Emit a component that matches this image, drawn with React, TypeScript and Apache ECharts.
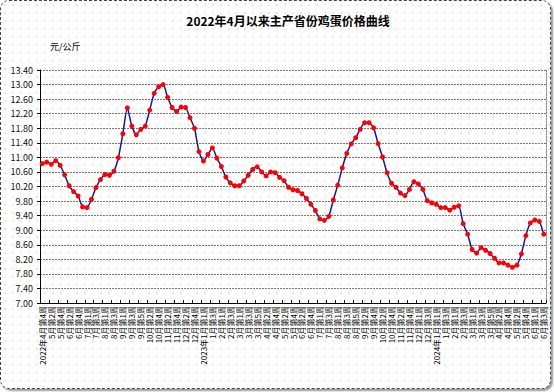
import React, { useEffect, useRef } from "react";
import * as echarts from "echarts";

const TITLE = "2022年4月以来主产省份鸡蛋价格曲线";
const UNIT = "元/公斤";

const categories: string[] = [
  "2022年4月第4周",
  "5月第1周", "5月第2周", "5月第3周", "5月第4周",
  "6月第1周", "6月第2周", "6月第3周", "6月第4周", "6月第5周",
  "7月第1周", "7月第2周", "7月第3周", "7月第4周",
  "8月第1周", "8月第2周", "8月第3周", "8月第4周",
  "9月第1周", "9月第2周", "9月第3周", "9月第4周", "9月第5周",
  "10月第1周", "10月第2周", "10月第3周", "10月第4周",
  "11月第1周", "11月第2周", "11月第3周", "11月第4周",
  "12月第1周", "12月第2周", "12月第3周", "12月第4周", "12月第5周",
  "2023年1月第1周", "1月第2周", "1月第3周", "1月第4周",
  "2月第1周", "2月第2周", "2月第3周", "2月第4周",
  "3月第1周", "3月第2周", "3月第3周", "3月第4周", "3月第5周",
  "4月第1周", "4月第2周", "4月第3周", "4月第4周",
  "5月第1周", "5月第2周", "5月第3周", "5月第4周",
  "6月第1周", "6月第2周", "6月第3周", "6月第4周", "6月第5周",
  "7月第1周", "7月第2周", "7月第3周", "7月第4周",
  "8月第1周", "8月第2周", "8月第3周", "8月第4周", "8月第5周",
  "9月第1周", "9月第2周", "9月第3周", "9月第4周",
  "10月第1周", "10月第2周", "10月第3周", "10月第4周",
  "11月第1周", "11月第2周", "11月第3周", "11月第4周", "11月第5周",
  "12月第1周", "12月第2周", "12月第3周", "12月第4周",
  "2024年1月第1周", "1月第2周", "1月第3周", "1月第4周",
  "2月第1周", "2月第2周", "2月第3周", "2月第4周",
  "3月第1周", "3月第2周", "3月第3周", "3月第4周", "3月第5周",
  "4月第1周", "4月第2周", "4月第3周", "4月第4周",
  "5月第1周", "5月第2周", "5月第3周", "5月第4周", "5月第5周",
  "6月第1周", "6月第2周", "6月第3周",
];

const prices2022: number[] = [
  10.83, 10.87, 10.81, 10.91, 10.78, 10.52, 10.22, 10.06, 9.94, 9.64,
  9.62, 9.85, 10.17, 10.39, 10.53, 10.51, 10.62, 10.99, 11.65, 12.36,
  11.86, 11.62, 11.77, 11.86, 12.3, 12.76, 12.94, 13.0, 12.65, 12.37,
  12.26, 12.38, 12.37, 12.09, 11.8, 11.16,
];

const prices2023: number[] = [
  10.9, 11.08, 11.26, 10.98, 10.75, 10.46, 10.3, 10.22, 10.22, 10.35,
  10.51, 10.67, 10.74, 10.6, 10.49, 10.6, 10.58, 10.45, 10.36, 10.18,
  10.11, 10.09, 10.0, 9.87, 9.71, 9.54, 9.31, 9.27, 9.38, 9.83,
  10.24, 10.71, 11.11, 11.37, 11.54, 11.77, 11.95, 11.95, 11.81, 11.38,
  11.01, 10.58, 10.29, 10.18, 10.02, 9.95, 10.12, 10.33, 10.27, 10.12,
  9.81, 9.75,
];

const prices2024: number[] = [
  9.71, 9.62, 9.62, 9.55, 9.63, 9.67, 9.18, 8.89, 8.47, 8.37,
  8.52, 8.45, 8.36, 8.23, 8.1, 8.1, 8.04, 7.98, 8.04, 8.35,
  8.85, 9.2, 9.28, 9.24, 8.89,
];

const Y_MIN = 7.0;
const Y_MAX = 13.4;
const Y_STEP = 0.4;

const FONT = '"Noto Sans CJK SC", "DejaVu Sans", sans-serif';

export default function App() {
  const ref = useRef<HTMLDivElement>(null);

  useEffect(() => {
    if (!ref.current) return;
    const chart = echarts.init(ref.current, undefined, { renderer: "svg" });
    const values = [...prices2022, ...prices2023, ...prices2024];
    chart.setOption({
      animation: false,
      backgroundColor: "transparent",
      title: {
        text: TITLE,
        left: 283,
        top: 9,
        textAlign: "center",
        textStyle: { fontFamily: FONT, fontSize: 12, fontWeight: "bold", color: "#000" },
      },
      graphic: [
        {
          type: "text",
          left: 50,
          top: 42,
          style: { text: UNIT, fontFamily: FONT, fontSize: 9, fill: "#000" },
        },
      ],
      grid: { left: 40, right: 8, top: 70, bottom: 89, containLabel: false },
      xAxis: {
        type: "category",
        data: categories,
        boundaryGap: true,
        axisLine: { show: true, lineStyle: { color: "#000", width: 1 } },
        axisTick: { show: true, inside: true, length: 3, lineStyle: { color: "#000" } },
        axisLabel: {
          interval: 1,
          rotate: 90,
          fontFamily: FONT,
          fontSize: 8,
          color: "#000",
          margin: 3,
        },
        splitLine: { show: false },
      },
      yAxis: [
        {
          type: "value",
          min: Y_MIN,
          max: Y_MAX,
          interval: Y_STEP,
          axisLine: { show: true, lineStyle: { color: "#000", width: 1 } },
          axisTick: { show: true, length: 3, lineStyle: { color: "#000" } },
          axisLabel: {
            fontFamily: FONT,
            fontSize: 9,
            color: "#111",
            margin: 7,
            formatter: (v: number) => v.toFixed(2),
          },
          splitLine: {
            show: true,
            lineStyle: { color: "#777", type: [2, 1], width: 1 },
          },
        },
        {
          type: "value",
          min: Y_MIN,
          max: Y_MAX,
          interval: Y_STEP,
          position: "right",
          axisLine: { show: true, lineStyle: { color: "#888", type: [2, 1] } },
          axisTick: { show: false },
          axisLabel: { show: false },
          splitLine: { show: false },
        },
      ],
      series: [
        {
          type: "line",
          data: values,
          yAxisIndex: 0,
          smooth: 0.2,
          showSymbol: true,
          showAllSymbol: true,
          symbol: "circle",
          symbolSize: 5,
          lineStyle: { color: "#16169a", width: 1.5 },
          itemStyle: { color: "#ff0000", borderWidth: 0 },
        },
      ],
    });
    return () => chart.dispose();
  }, []);

  return (
    <div
      style={{
        position: "fixed",
        left: 0,
        top: 0,
        width: 554,
        height: 392,
        background: "#fff",
      }}
    >
      <div
        style={{
          position: "absolute",
          left: 0,
          top: 0,
          width: 549,
          height: 387,
          border: "1px dashed #444",
          borderRadius: 9,
          boxShadow: "2px 2px 2px #999",
          backgroundColor: "#fff",
          backgroundImage: "radial-gradient(#cfcfcf 0.6px, transparent 0.8px)",
          backgroundSize: "8px 8px",
        }}
      />
      <div ref={ref} style={{ position: "absolute", left: 0, top: 0, width: 554, height: 392 }} />
    </div>
  );
}
